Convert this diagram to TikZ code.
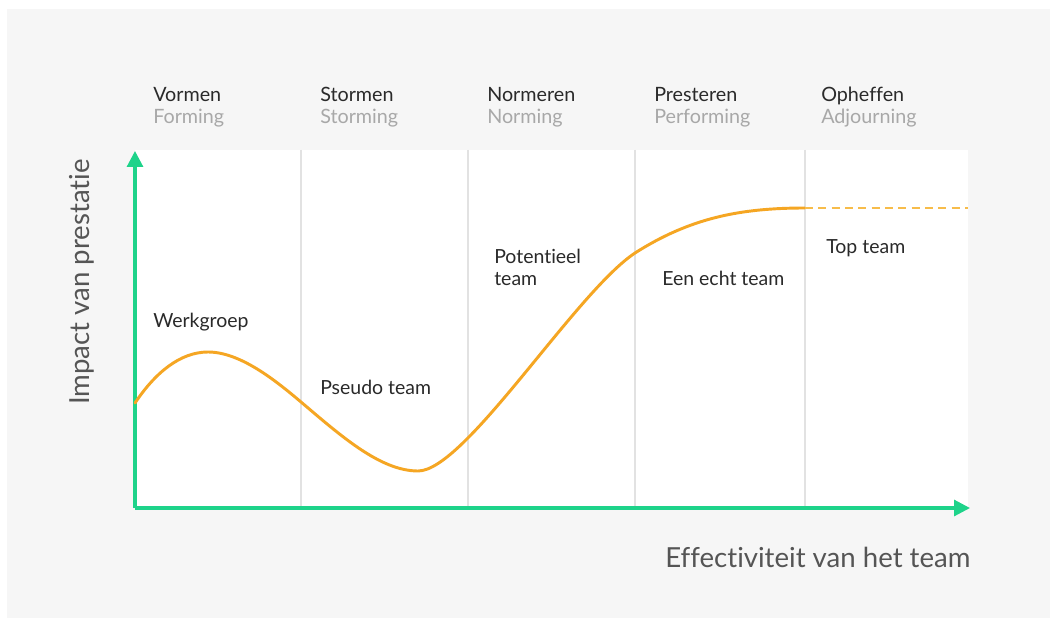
\documentclass[tikz,border=0pt]{standalone}
\usepackage{fontspec}
\setmainfont{Lato}[Ligatures=NoCommon]
\usetikzlibrary{arrows.meta}
\definecolor{bgray}{HTML}{F6F6F6}
\definecolor{grn}{HTML}{1ED38A}
\definecolor{org}{HTML}{F5A623}
\definecolor{orgl}{HTML}{F7BC4A}
\definecolor{vline}{HTML}{E2E2E2}
\definecolor{dark}{HTML}{2A2A2A}
\definecolor{lgray}{HTML}{A8A8A8}
\definecolor{axtext}{HTML}{555555}
\tikzset{
  stagename/.style={anchor=base west, inner sep=0pt, text=dark, font=\fontsize{14.8}{17}\selectfont},
  stagesub/.style={anchor=base west, inner sep=0pt, text=lgray, font=\fontsize{14.8}{17}\selectfont},
  lab/.style={anchor=base west, inner sep=0pt, text=dark, font=\fontsize{14.6}{16.5}\selectfont, align=left},
  axlab/.style={anchor=base west, inner sep=0pt, text=axtext, font=\fontsize{20.7}{24}\selectfont},
  axis/.style={draw=grn, line width=2.3pt, -{Triangle[width=12pt,length=12pt]}},
  divider/.style={draw=vline, line width=1.4pt},
  curve/.style={draw=org, line width=2.2pt},
  dashcurve/.style={draw=orgl, line width=2.2pt, dash pattern=on 6pt off 4pt}
}
\begin{document}
\begin{tikzpicture}[x=0.75pt,y=-0.75pt]
\useasboundingbox (0,0) rectangle (1056,624);
\fill[white] (0,0) rectangle (1056,624);
\fill[bgray] (7,9) rectangle (1050,618);
\fill[white] (135,150) rectangle (968,508);
% dividers
\foreach \x in {301,468,635,805} \draw[divider] (\x,150) -- (\x,508);
% axes
\coordinate (origin) at (135,508);
\coordinate (ytip) at (135,151);
\coordinate (xtip) at (970,508);
\draw[axis] (origin) -- (ytip);
\draw[axis] (origin) -- (xtip);
% curve
\coordinate (c0) at (135,403);
\coordinate (c1) at (208,352);
\coordinate (c2) at (301,402);
\coordinate (c3) at (418,471);
\coordinate (c4) at (635,253);
\coordinate (c5) at (805,208);
\coordinate (c6) at (968,208);
\draw[curve, line cap=round] (c0) .. controls (155,373) and (180,352) .. (c1)
  .. controls (240,352) and (275,380) .. (c2)
  .. controls (340,435) and (380,471) .. (c3)
  .. controls (465,471) and (575,293) .. (c4)
  .. controls (690,218) and (740,208) .. (c5);
\draw[dashcurve] (c5) -- (c6);
% stage headers
\node[stagename] (s1) at (153,102) {Vormen};
\node[stagesub]  (t1) at (153,124) {Forming};
\node[stagename] (s2) at (320,102) {Stormen};
\node[stagesub]  (t2) at (320,124) {Storming};
\node[stagename] (s3) at (487,102) {Normeren};
\node[stagesub]  (t3) at (487,124) {Norming};
\node[stagename] (s4) at (654,102) {Presteren};
\node[stagesub]  (t4) at (654,124) {Performing};
\node[stagename] (s5) at (821,102) {Opheffen};
\node[stagesub]  (t5) at (821,124) {Adjourning};
% labels
\node[lab] (l1) at (153,327) {Werkgroep};
\node[lab] (l2) at (320,394) {Pseudo team};
\node[lab] (l3a) at (494,263) {Potentieel};
\node[lab] (l3b) at (494,285) {team};
\node[lab] (l4) at (662,285) {Een echt team};
\node[lab] (l5) at (826,253) {Top team};
% axis labels
\node[axlab] (xl) at (665,567) {Effectiviteit van het team};
\node[axlab, rotate=90] (yl) at (89,405) {Impact van prestatie};
\end{tikzpicture}
\end{document}
